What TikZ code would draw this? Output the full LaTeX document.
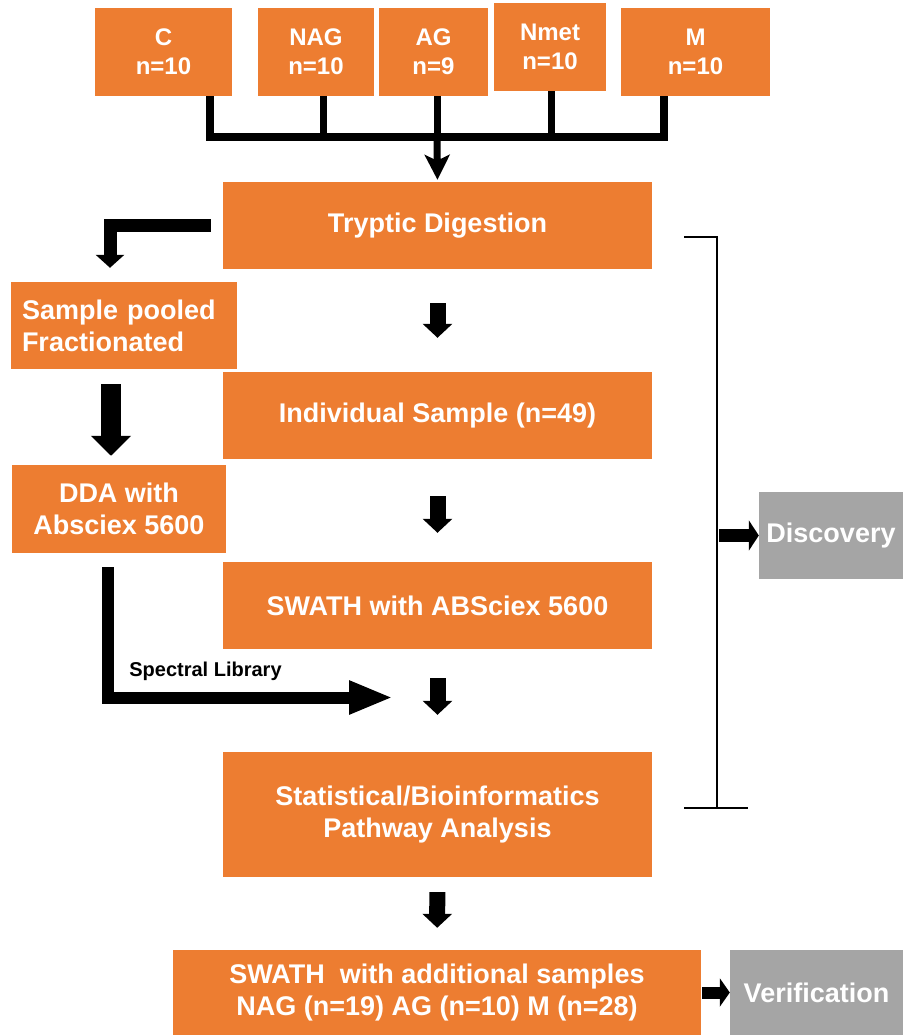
\documentclass[tikz,border=0pt]{standalone}
\usepackage{fontspec}
\setmainfont{Liberation Sans}
\usetikzlibrary{arrows.meta}
\definecolor{boxorange}{HTML}{ED7D31}
\definecolor{boxgrey}{HTML}{A5A5A5}
\tikzset{
	box/.style={fill=boxorange,text=white,inner sep=0pt,align=center,font=\fontsize{27}{32}\selectfont\bfseries},
	grpbox/.style={box,font=\fontsize{24}{29}\selectfont\bfseries},
	greybox/.style={box,fill=boxgrey},
	smallarrow/.style={line width=16pt,-{Triangle[width=29pt,length=14pt]}},
	bigarrow/.style={line width=20pt,-{Triangle[width=39pt,length=20pt]}},
	sidearrow/.style={line width=13pt,-{Triangle[width=30pt,length=10pt]}},
}
\begin{document}
\begin{tikzpicture}[x=1pt,y=-1pt]
	\useasboundingbox (0,0) rectangle (903,1035);
	
	\node [grpbox,minimum width=137pt,minimum height=88pt] (C) at (163.5,52) {C\\n=10};
	\node [grpbox,minimum width=116pt,minimum height=88pt] (NAG) at (316,52) {NAG\\n=10};
	\node [grpbox,minimum width=109pt,minimum height=88pt] (AG) at (433.5,52) {AG\\n=9};
	\node [grpbox,minimum width=112pt,minimum height=88pt] (Nmet) at (550,47) {Nmet\\n=10};
	\node [grpbox,minimum width=149pt,minimum height=88pt] (M) at (695.5,52) {M\\n=10};
	
	\node [box,minimum width=429pt,minimum height=87pt] (tryp) at (437.5,225.5) {Tryptic Digestion};
	\node [box,minimum width=429pt,minimum height=87pt] (indiv) at (437.5,415.5) {Individual Sample (n=49)};
	\node [box,minimum width=429pt,minimum height=87pt] (swath) at (437.5,605.5) {SWATH with ABSciex 5600};
	\node [box,minimum width=429pt,minimum height=125pt] (stat) at (437.5,814.5) {Statistical/Bioinformatics\\Pathway Analysis};
	\node [box,minimum width=528pt,minimum height=85pt] (swadd) at (437,992.5) {SWATH\ \ with additional samples\\NAG (n=19) AG (n=10) M (n=28)};
	
	\node [box,text width=204pt,inner xsep=11pt,align=left,minimum height=87pt] (samp) at (124,325.5) {Sample pooled\\Fractionated};
	\node [box,minimum width=214pt,minimum height=88pt] (dda) at (119,509) {DDA with\\Absciex 5600};
	
	\node [greybox,minimum width=144pt,minimum height=87pt] (disc) at (831,535.5) {Discovery};
	\node [greybox,minimum width=173pt,minimum height=85pt] (verif) at (816.5,992.5) {Verification};
	
	\node [font=\fontsize{20}{24}\selectfont\bfseries] (speclib) at (205.5,671) {Spectral Library};
	
	\coordinate (bus) at (437,137);
	\coordinate (tC) at ([xshift=46.5pt]C.south);
	\coordinate (tNAG) at ([xshift=7pt]NAG.south);
	\coordinate (tAG) at ([xshift=3.5pt]AG.south);
	\coordinate (tNmet) at ([xshift=1pt]Nmet.south);
	\coordinate (tM) at ([xshift=-31.5pt]M.south);
	\draw [line width=8pt] (tC) |- (bus) -| (tM);
	\draw [line width=7pt] (tNAG) -- (tNAG |- bus);
	\draw [line width=7pt] (tAG) -- (tAG |- bus);
	\draw [line width=7pt] (tNmet) -- (tNmet |- bus);
	\draw [line width=7pt,-{Stealth[width=25pt,length=25pt,inset=6pt]},shorten >=2pt] (bus) -- (tryp.north);
	
	\draw [smallarrow,shorten <=34pt,shorten >=34pt] (tryp) -- (indiv);
	\draw [smallarrow,shorten <=37pt,shorten >=29pt] (indiv) -- (swath);
	\draw [smallarrow,shorten <=29pt,shorten >=37pt] (swath) -- (stat);
	\draw [smallarrow,shorten <=15pt,shorten >=22pt] (stat) -- (swadd);
	
	\draw [line width=13pt,-{Triangle[width=28pt,length=13pt]},shorten <=12pt,shorten >=14pt] (tryp.west) -| ([xshift=-14pt]samp.north);
	\draw [bigarrow,shorten <=15pt,shorten >=9pt] ([xshift=-13pt]samp.south) -- ([xshift=-8pt]dda.north);
	
	\coordinate (lib) at (393,697.5);
	\draw [line width=12pt,-{Triangle[width=31pt,length=44pt]},shorten <=14pt] ([xshift=-11pt]dda.south) |- (lib);
	
	\coordinate (brtop) at (684,237);
	\coordinate (bv) at (717,237);
	\coordinate (brbot) at (684,808);
	\draw [line width=2pt] (brtop) -| (bv |- brbot);
	\draw [line width=2pt] (brbot) -- ++(64,0);
	\draw [sidearrow,shorten <=2pt] (bv |- disc.west) -- (disc.west);
	\draw [line width=12pt,-{Triangle[width=28pt,length=10pt]},shorten <=1pt] (swadd.east) -- (verif.west);
\end{tikzpicture}
\end{document}
